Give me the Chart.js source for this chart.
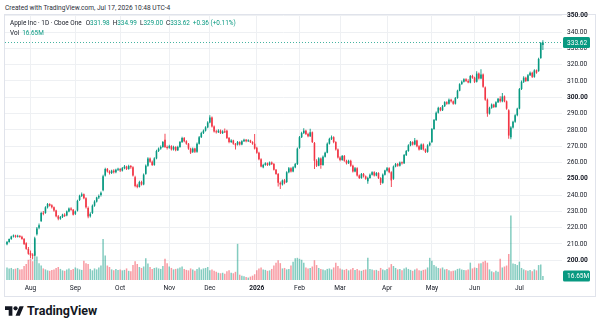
<!DOCTYPE html>
<html>
<head>
<meta charset="utf-8">
<title>Apple Inc · 1D · Cboe One</title>
<script src="https://cdn.jsdelivr.net/npm/chart.js@4.4.1/dist/chart.umd.min.js"></script>
<style>
  html, body { margin:0; padding:0; background:#ffffff; }
  body { width:600px; height:328px; position:relative; overflow:hidden;
         font-family: Roboto, "Liberation Sans", sans-serif; color:#131722; }
  .abs { position:absolute; white-space:nowrap; }
  #created { left:5px; top:4px; font-size:6.6px; line-height:8px; color:#2a2e39; }
  #frame { left:4px; top:14px; width:590px; height:281px; border:1px solid #e0e3eb; }
  #chart { position:absolute; left:5px; top:10px; }
  .lg { font-size:6.4px; line-height:8px; color:#131722; }
  .row { display:flex; gap:3px; }
  .g { color:#089981; }
  #brand { left:27px; top:304px; font-size:12.5px; line-height:14px; font-weight:700; color:#131722; }
  #logo { position:absolute; left:5px; top:304px; }
</style>
</head>
<body>
<div id="created" class="abs">Created with TradingView.com, Jul 17, 2026 10:48 UTC-4</div>
<div id="frame" class="abs"></div>
<canvas id="chart" width="590" height="286"></canvas>
<div class="abs lg row" style="left:10px;top:19px">
  <span style="margin-right:1px">Apple Inc · 1D · Cboe One</span>
  <span>O<span class="g">331.98</span></span>
  <span>H<span class="g">334.99</span></span>
  <span>L<span class="g">329.00</span></span>
  <span>C<span class="g">333.62</span></span>
  <span class="g">+0.36 (+0.11%)</span>
</div>
<div class="abs lg row" style="left:10px;top:29px">
  <span>Vol</span>
  <span class="g">16.65M</span>
</div>
<svg id="logo" width="19" height="15" viewBox="0 0 36 28"><path d="M14 22H7V11H0V4h14v18zm14 0h-8l7.5-18h8L28 22z" fill="#131722"/><circle cx="20" cy="8" r="4" fill="#131722"/></svg>
<div id="brand" class="abs">TradingView</div>

<script>
// ---- Data (daily sessions, Jul 17 2025 -> Jul 17 2026) ----
const open = [
  209.8,211.2,213.0,214.6,215.2,214.4,215.0,214.5,213.0,210.5,
  207.0,204.5,203.5,203.0,216.0,220.0,224.0,229.0,229.0,232.5,
  234.5,233.8,232.5,230.5,227.0,225.5,226.5,228.0,227.5,230.0,
  231.8,231.0,228.5,230.5,237.0,239.5,240.5,238.0,232.0,227.0,
  229.0,233.5,236.0,238.5,240.0,243.0,252.0,256.0,254.5,253.5,
  255.0,254.0,255.5,256.0,255.0,256.5,257.5,256.0,257.8,257.0,
  251.0,246.0,245.0,248.0,246.5,253.0,258.0,262.5,260.5,258.5,
  262.5,267.0,268.5,269.5,274.0,269.5,269.0,270.0,268.0,269.5,
  267.5,269.5,272.5,275.0,273.0,271.5,268.5,266.5,268.5,266.5,
  271.5,275.5,278.0,279.5,281.5,284.5,287.5,282.0,279.0,278.5,
  279.5,278.0,279.0,279.5,275.0,272.5,273.5,271.5,271.0,272.5,
  271.0,273.0,274.0,273.0,273.5,272.5,271.5,269.0,266.0,262.0,
  257.0,258.5,259.5,258.5,260.0,259.0,255.5,253.0,247.5,246.5,
  249.0,248.0,254.0,256.5,254.5,257.0,259.0,269.0,275.5,278.0,
  279.5,277.5,276.0,278.5,272.0,261.0,258.0,262.5,258.5,263.5,
  266.0,271.5,274.5,275.5,272.5,268.0,263.0,261.5,264.0,261.0,
  259.5,261.0,258.0,254.5,256.5,252.0,250.5,253.0,251.5,248.5,
  250.5,252.5,254.0,252.0,253.5,250.5,247.5,252.5,255.0,256.5,
  254.0,250.0,257.5,259.0,258.0,260.0,259.5,264.5,267.0,270.5,
  272.5,271.0,273.5,270.0,268.0,271.0,268.0,266.5,270.5,272.5,
  280.5,286.0,290.5,293.5,292.0,294.5,297.0,296.0,298.5,297.5,
  296.0,299.5,304.0,308.0,309.5,311.0,310.0,309.0,313.0,312.0,
  309.5,314.5,311.5,314.0,306.0,298.5,290.0,293.5,295.5,294.0,
  297.0,299.0,297.5,300.5,297.5,292.0,275.5,281.5,285.0,289.0,
  293.0,305.0,309.5,312.0,310.0,313.5,315.0,312.5,316.5,316.0,
  324.0,331.98
];
const high = [
  211.8,213.4,215.0,215.8,215.6,215.6,215.4,215.0,213.6,211.0,
  208.2,206.0,204.4,214.4,220.4,222.6,229.8,230.2,233.2,235.2,
  235.0,234.4,233.0,231.0,227.8,227.2,228.6,228.8,230.6,232.4,
  232.6,231.4,230.6,237.2,240.2,241.6,241.0,238.6,233.0,229.4,
  234.2,236.8,239.0,240.4,242.2,252.4,256.8,256.6,255.2,255.6,
  255.8,256.2,256.8,256.6,257.2,258.4,258.0,258.6,258.4,257.6,
  251.8,247.0,248.8,248.8,253.2,258.8,263.2,263.0,261.2,263.2,
  267.8,269.2,270.4,273.2,277.6,270.4,270.8,270.6,270.2,270.0,
  270.2,273.2,275.8,275.6,273.6,272.0,269.0,269.2,269.0,272.2,
  276.2,278.8,280.2,282.2,285.2,289.0,288.2,282.6,280.0,280.4,
  280.2,279.8,280.8,280.0,275.6,274.2,274.0,272.0,273.2,273.0,
  273.6,274.6,274.4,274.2,274.0,273.0,277.5,269.6,266.6,262.6,
  259.2,260.2,260.0,260.6,260.6,259.6,256.0,253.6,248.4,249.6,
  249.8,254.6,257.2,257.0,257.6,259.6,269.2,276.2,278.8,281.0,
  280.0,278.2,280.6,279.0,272.6,262.0,263.2,263.0,264.2,266.6,
  272.2,275.2,276.6,276.0,273.0,268.6,263.8,264.6,264.6,261.6,
  261.6,261.6,258.6,257.2,257.0,252.6,253.6,253.6,252.0,251.2,
  253.2,254.6,254.6,254.2,254.0,251.0,253.2,255.6,257.2,257.0,
  254.6,258.2,259.6,259.6,260.6,260.6,265.2,267.6,271.2,273.2,
  273.0,275.0,274.0,270.6,271.6,271.6,268.6,271.2,272.8,281.2,
  286.6,291.2,294.2,294.0,295.2,297.6,297.6,299.2,299.0,298.0,
  300.2,304.6,308.6,310.2,311.6,311.6,311.0,313.6,313.8,312.6,
  316.0,315.2,317.2,314.6,306.6,299.2,294.2,296.2,296.0,297.6,
  299.6,300.6,302.6,301.0,298.0,292.6,282.2,285.6,289.6,293.6,
  305.6,310.2,312.8,312.6,314.2,315.8,315.6,317.2,317.0,324.2,
  333.8,334.99
];
const low = [
  209.2,210.8,212.6,214.0,213.8,214.0,213.8,212.6,209.4,206.4,
  203.4,201.2,200.6,202.6,215.2,219.0,223.6,227.6,228.6,231.8,
  233.0,231.8,229.8,226.4,224.6,224.8,226.0,226.6,227.0,229.4,
  230.4,227.4,227.8,230.0,236.4,238.8,237.4,231.8,225.8,226.2,
  228.4,232.8,235.4,237.6,239.2,242.4,251.4,253.8,252.6,253.0,
  253.2,253.4,254.8,254.2,254.4,255.8,255.4,255.6,256.2,251.4,
  244.8,244.2,244.6,245.8,246.0,252.4,257.4,259.8,257.8,258.0,
  262.0,266.4,267.8,269.0,268.8,268.0,268.4,267.4,267.4,266.8,
  267.0,269.0,272.0,272.4,270.8,267.8,265.2,265.8,265.8,266.0,
  271.0,275.0,277.4,279.0,281.0,284.0,281.4,278.4,277.8,278.0,
  277.4,277.4,278.0,274.4,271.8,272.0,270.8,268.0,270.4,270.4,
  270.6,272.6,272.4,272.6,272.0,270.8,268.0,265.4,261.4,257.0,
  256.4,258.0,257.8,258.0,258.4,255.0,252.4,245.2,243.8,245.8,
  246.6,247.4,253.4,253.8,254.0,256.4,258.4,268.4,275.0,277.4,
  276.8,275.4,275.6,272.0,256.0,257.2,257.6,256.2,258.0,263.0,
  265.6,271.0,273.8,271.8,267.4,262.4,260.8,261.0,260.4,258.8,
  259.0,257.4,253.8,254.0,251.4,249.8,250.0,250.8,249.4,247.0,
  250.0,252.0,251.4,251.6,249.8,246.2,247.0,252.0,254.4,253.4,
  245.0,249.4,257.0,257.4,257.6,258.8,259.0,264.0,266.6,270.0,
  270.4,270.6,269.4,267.4,267.6,267.4,265.8,266.0,270.0,272.0,
  280.0,285.4,290.0,291.4,291.6,294.0,295.4,295.6,296.8,295.4,
  295.6,299.0,303.6,307.6,309.0,309.4,308.6,308.6,311.4,308.8,
  309.0,310.8,311.0,305.8,297.8,288.0,289.4,293.0,293.4,293.6,
  296.4,296.8,297.0,297.0,292.4,274.6,274.2,280.8,284.4,288.4,
  292.6,304.4,308.8,309.4,309.6,313.0,311.8,312.0,314.4,315.6,
  323.6,329.00
];
const close = [
  211.2,213.0,214.6,215.2,214.4,215.0,214.3,213.0,210.0,207.0,
  204.0,203.0,202.8,213.5,219.5,221.5,229.0,228.5,232.5,234.5,
  233.5,232.5,230.5,227.0,225.5,226.5,228.0,227.2,230.0,231.8,
  231.0,228.0,230.0,236.5,239.5,240.5,238.0,232.5,226.8,228.5,
  233.5,236.0,238.5,239.5,241.5,251.5,256.0,254.5,253.5,255.0,
  254.0,255.5,256.0,255.0,256.5,257.5,256.0,257.8,257.0,252.0,
  245.5,245.0,248.0,246.5,252.5,258.0,262.5,260.5,258.5,262.5,
  267.0,268.5,269.5,272.5,269.5,268.8,270.0,268.0,269.5,267.5,
  269.5,272.5,275.0,273.0,271.5,268.5,266.0,268.5,266.5,271.5,
  275.5,278.0,279.5,281.5,284.5,287.5,282.0,279.0,278.5,279.5,
  278.0,279.0,278.5,275.0,272.5,273.5,271.5,270.5,272.5,271.0,
  273.0,274.0,273.0,273.5,272.5,271.5,268.5,266.0,262.0,257.5,
  258.5,259.5,258.5,260.0,259.0,255.5,253.0,247.5,246.5,249.0,
  247.5,254.0,256.5,254.5,257.0,259.0,268.5,275.5,278.0,279.5,
  277.5,276.0,278.5,272.5,261.0,258.0,262.5,258.5,263.5,266.0,
  271.5,274.5,275.5,272.5,268.0,263.0,261.5,264.0,261.0,259.5,
  261.0,258.0,254.5,256.5,252.0,250.5,253.0,251.5,250.0,250.5,
  252.5,254.0,252.0,253.5,250.5,247.5,252.5,255.0,256.5,254.0,
  249.0,257.5,259.0,258.0,260.0,259.5,264.5,267.0,270.5,272.5,
  271.0,273.5,270.0,268.0,271.0,268.0,266.5,270.5,272.0,280.5,
  286.0,290.5,293.5,292.0,294.5,297.0,296.0,298.5,297.5,296.0,
  299.5,304.0,308.0,309.5,311.0,310.0,309.0,313.0,312.0,309.5,
  314.5,311.5,314.0,306.5,298.5,290.0,293.5,295.5,294.0,297.0,
  299.0,297.5,300.5,297.5,293.0,276.5,281.5,285.0,289.0,293.0,
  305.0,309.5,312.0,310.0,313.5,315.0,312.5,316.5,315.0,323.5,
  333.26,333.62
];
// volume, millions of shares
const volume = [
  52,48,50,45,47,50,44,45,58,66,84,
  88,78,118,98,70,60,48,44,40,
  38,42,44,50,54,46,40,38,44,48,42,46,
  52,48,44,42,80,70,66,46,40,48,
  44,52,60,170,102,60,54,44,40,46,42,
  44,40,42,48,38,36,62,78,66,54,50,
  56,90,68,54,46,50,52,48,46,58,88,70,
  56,50,44,46,48,52,56,46,42,40,48,44,38,46,52,44,48,50,54,
  40,44,38,34,30,28,30,26,36,40,30,28,34,
  150,22,18,16,12,10,14,18,24,
  40,48,52,44,42,38,40,46,60,72,82,70,48,50,44,46,60,76,90,92,
  88,84,72,52,48,50,56,82,62,50,46,44,40,46,48,44,52,72,58,
  48,44,42,46,40,44,50,42,46,40,38,42,44,92,46,44,40,42,38,50,44,40,
  46,52,66,58,50,44,46,40,48,52,46,42,38,44,48,40,38,42,44,52,92,
  80,62,56,50,48,52,44,46,40,36,38,40,46,48,44,42,40,44,72,48,
  52,50,68,70,76,80,72,44,36,32,38,34,88,52,56,60,108,268,68,66,62,
  76,50,44,40,38,42,36,44,40,62,64,16.65
];
// time-axis ticks: session index of each month's first session, and its label
const tickIndex  = [11, 32, 53, 76, 95, 117, 137, 156, 178, 199, 219, 240];
const tickLabels = ['Aug','Sep','Oct','Nov','Dec','2026','Feb','Mar','Apr','May','Jun','Jul'];
const priceTicks = [200,210,220,230,240,250,260,270,280,290,300,310,320,330,340,350];
const boldPrices = [200,250,300,350];

// ---- Styling ----
const FONT = 'Roboto, "Liberation Sans", sans-serif';
const UP = '#089981', DN = '#f23645';
const UPV = 'rgba(8,153,129,0.5)', DNV = 'rgba(242,54,69,0.5)';
const GRID = '#eef0f3';

const idx = close.map((_, i) => i);
const isUp = idx.map(i => close[i] >= open[i]);
const candleColor = isUp.map(u => u ? UP : DN);
const volColor = isUp.map(u => u ? UPV : DNV);

const last = close.length - 1;

const lastValuePlugin = {
  id: 'lastValue',
  afterDatasetsDraw(chart) {
    const { ctx, chartArea: a, scales } = chart;
    const y = Math.round(scales.y.getPixelForValue(close[last])) + 0.5;
    ctx.save();
    ctx.strokeStyle = UP; ctx.globalAlpha = 0.75; ctx.lineWidth = 1; ctx.setLineDash([1, 2]);
    ctx.beginPath(); ctx.moveTo(a.left, y); ctx.lineTo(a.right, y); ctx.stroke();
    ctx.restore();
  },
  afterDraw(chart) {
    const { ctx, chartArea: a, scales } = chart;
    const tag = (y, text) => {
      ctx.save();
      ctx.fillStyle = UP;
      ctx.beginPath();
      ctx.roundRect(a.right + 1, y - 5.5, 27, 11, 1.5);
      ctx.fill();
      ctx.fillStyle = '#ffffff';
      ctx.font = `6.6px ${FONT}`;
      ctx.textBaseline = 'middle';
      ctx.textAlign = 'left';
      ctx.fillText(text, a.right + 5, y + 0.5);
      ctx.restore();
    };
    tag(scales.y.getPixelForValue(close[last]), close[last].toFixed(2));
    tag(scales.v.getPixelForValue(volume[last]), volume[last].toFixed(2) + 'M');
  }
};

new Chart(document.getElementById('chart'), {
  type: 'bar',
  data: {
    datasets: [
      { label: 'body', data: idx.map(i => ({ x: i, y: [open[i], close[i]] })),
        backgroundColor: candleColor, barThickness: 1.6, minBarLength: 1,
        borderWidth: 0, inflateAmount: 0, grouped: false, yAxisID: 'y' },
      { label: 'wick', data: idx.map(i => ({ x: i, y: [low[i], high[i]] })),
        backgroundColor: candleColor, barThickness: 0.9,
        borderWidth: 0, inflateAmount: 0, grouped: false, yAxisID: 'y' },
      { label: 'volume', data: idx.map(i => ({ x: i, y: volume[i] })),
        backgroundColor: volColor, barThickness: 1.5,
        borderWidth: 0, inflateAmount: 0, grouped: false, yAxisID: 'v' }
    ]
  },
  options: {
    responsive: false, animation: false, devicePixelRatio: 1,
    layout: { padding: { top: 5, left: 0, right: 0, bottom: 0 } },
    plugins: { legend: { display: false }, tooltip: { enabled: false } },
    scales: {
      x: {
        type: 'linear', min: -0.94, max: 259.95, offset: false,
        afterBuildTicks: s => { s.ticks = tickIndex.map(v => ({ value: v })); },
        afterFit: s => { s.height = 16; s.paddingLeft = 0; s.paddingRight = 0; },
        ticks: {
          autoSkip: false, maxRotation: 0, padding: 4, color: '#131722',
          font: c => ({ family: FONT, size: 6.6, weight: (c.tick && c.tick.value === 117) ? 'bold' : 'normal' }),
          callback: v => tickLabels[tickIndex.indexOf(v)]
        },
        grid: { color: GRID, drawTicks: false, offset: false },
        border: { display: false }
      },
      y: {
        type: 'linear', position: 'right', min: 187.92, max: 350.43,
        afterBuildTicks: s => { s.ticks = priceTicks.map(v => ({ value: v })); },
        afterFit: s => { s.width = 33; s.paddingTop = 0; s.paddingBottom = 0; },
        ticks: {
          padding: 5, color: '#131722',
          font: c => ({ family: FONT, size: 6.6, weight: (c.tick && boldPrices.includes(c.tick.value)) ? 'bold' : 'normal' }),
          callback: v => v.toFixed(2)
        },
        grid: { color: GRID, drawTicks: false },
        border: { display: false }
      },
      v: { axis: 'y', type: 'linear', position: 'left', display: false, min: 0, max: 1100 }
    }
  },
  plugins: [lastValuePlugin]
});
</script>
</body>
</html>
